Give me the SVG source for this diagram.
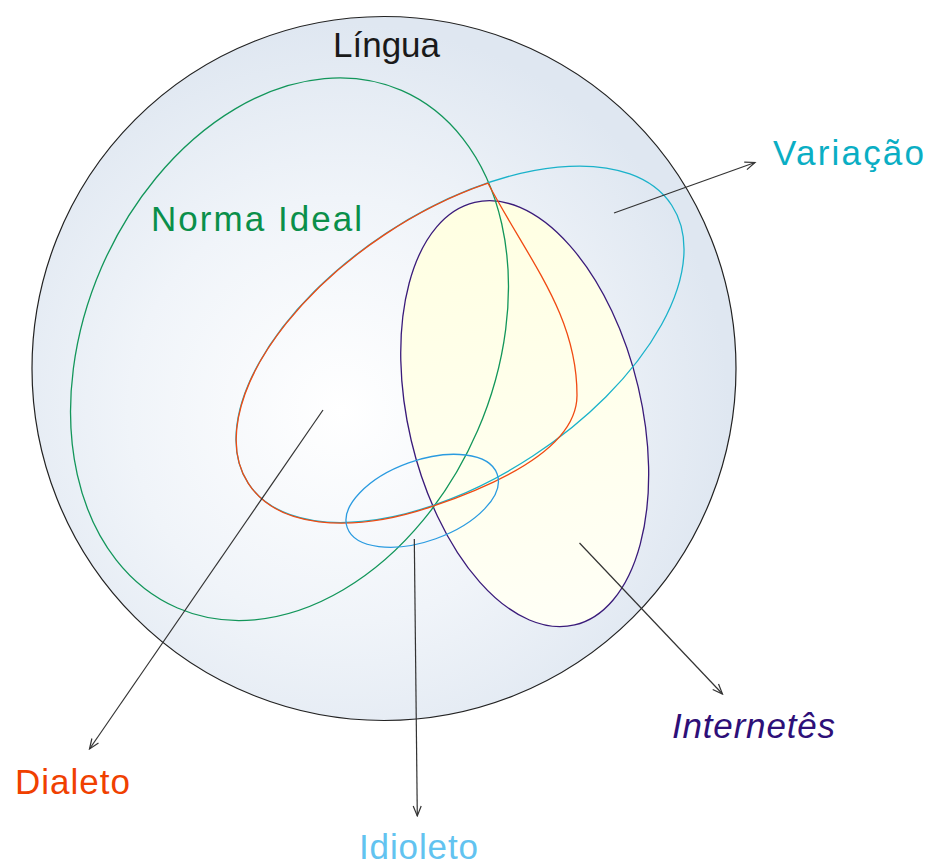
<svg xmlns="http://www.w3.org/2000/svg" width="930" height="867" viewBox="0 0 930 867">
<style>
  .lbl { font-family: "Liberation Sans", Arial, sans-serif; font-size: 35px; }
  .ring { fill: none; stroke-width: 1.3; }
  .conn { fill: none; stroke: #333333; stroke-width: 1.2; marker-end: url(#ah); }
</style>
<defs>
  <radialGradient id="bg" cx="0.44" cy="0.56" r="0.55">
    <stop offset="0" stop-color="#FFFFFF"/>
    <stop offset="0.55" stop-color="#F0F4F9"/>
    <stop offset="1" stop-color="#DFE7F1"/>
  </radialGradient>
  <linearGradient id="yel" x1="0" y1="0" x2="0" y2="1">
    <stop offset="0" stop-color="#FFFFE2"/>
    <stop offset="1" stop-color="#FFFFF6"/>
  </linearGradient>
  <marker id="ah" markerWidth="13" markerHeight="11" refX="11.5" refY="5.5" orient="auto" markerUnits="userSpaceOnUse">
    <path d="M1.5,1.5 L11.5,5.5 L1.5,9.5" fill="none" stroke="#333333" stroke-width="1.2"/>
  </marker>
</defs>
<rect width="930" height="867" fill="#FFFFFF"/>

<g id="lingua">
  <circle cx="384" cy="368.5" r="352" fill="url(#bg)" stroke="#222222" stroke-width="1.2"/>
  <text class="lbl" x="333" y="57" fill="#1A1A1A">Língua</text>
</g>

<g id="internetes">
  <ellipse cx="524.7" cy="413.7" rx="116.6" ry="217.1" transform="rotate(-13.3 524.7 413.7)" fill="url(#yel)" stroke="#3A1B7A" stroke-width="1.3"/>
  <text class="lbl" x="672" y="738" fill="#2E0F78" font-style="italic" textLength="163">Internetês</text>
</g>

<g id="norma-ideal">
  <ellipse class="ring" cx="289.5" cy="349.2" rx="205" ry="282" transform="rotate(23.4 289.5 349.2)" stroke="#12965A"/>
  <text class="lbl" x="151" y="231" fill="#0A8F4A" textLength="211">Norma Ideal</text>
</g>

<g id="variacao">
  <ellipse class="ring" cx="460" cy="344.3" rx="253.3" ry="133.4" transform="rotate(-33.3 460 344.3)" stroke="#1AB2CA"/>
  <text class="lbl" x="773" y="165" fill="#0AAEC4" textLength="151">Variação</text>
</g>

<g id="dialeto">
  <path class="ring" stroke="#F04A12" transform="translate(0 1.2)" d="M433,505 A253.3 133.4 -33.3 0 1 248.3 482.2 A253.3 133.4 -33.3 0 1 488 182 C530,261 577,314 577,394 C577,439 518,476 433,505 Z"/>
  <text class="lbl" x="15" y="794" fill="#F04000" textLength="115">Dialeto</text>
</g>

<g id="idioleto">
  <ellipse class="ring" cx="422.2" cy="500.8" rx="79.6" ry="40.3" transform="rotate(-19.7 422.2 500.8)" stroke="#2A9BE0"/>
  <text class="lbl" x="359" y="859" fill="#62C3F0" textLength="119">Idioleto</text>
</g>

<g id="connectors">
  <line class="conn" x1="614" y1="213" x2="755" y2="162.5"/>
  <line class="conn" x1="323" y1="410" x2="89.5" y2="749"/>
  <line class="conn" x1="414.3" y1="539" x2="417.3" y2="816"/>
  <line class="conn" x1="579.5" y1="543" x2="722.5" y2="694"/>
</g>
</svg>
